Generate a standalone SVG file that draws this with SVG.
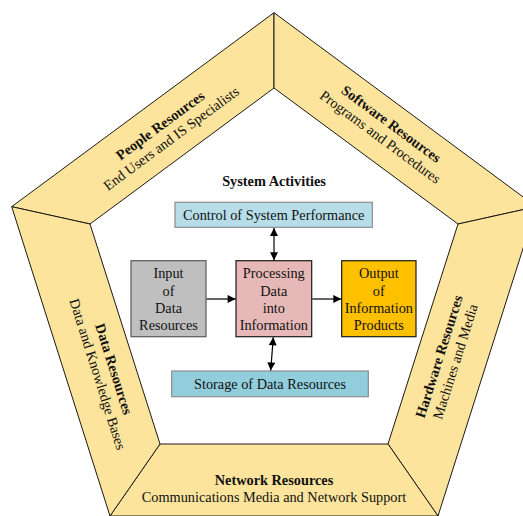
<svg xmlns="http://www.w3.org/2000/svg" width="523" height="516" viewBox="0 0 523 516">
  <style>
    .band { fill: #FDE49C; stroke: #1a1a1a; stroke-width: 1; stroke-linejoin: miter; }
    .lbl { font-family: "Liberation Serif", "Times New Roman", serif; font-size: 14.3px; fill: #111; text-anchor: middle; }
    .b { font-weight: bold; }
    .box { stroke-width: 1.2; }
    .conn { stroke: #000; stroke-width: 1.2; fill: none; }
  </style>
  <defs>
    <marker id="arrow" viewBox="0 0 10 10" refX="10" refY="5" markerWidth="9" markerHeight="8" markerUnits="userSpaceOnUse" orient="auto-start-reverse">
      <path d="M0,0 L10,5 L0,10 z" fill="#000"/>
    </marker>
  </defs>

  <rect width="523" height="516" fill="#fff"/>

  <!-- outer pentagon, split into five resource bands -->
  <g id="people">
    <polygon class="band" points="274,12.7 274,88 90,224 11.7,206.7"/>
    <g transform="translate(166,131.5) rotate(-36.5)">
      <text class="lbl b" x="-1" y="-3.5">People Resources</text>
      <text class="lbl" x="0" y="13.5">End Users and IS Specialists</text>
    </g>
  </g>
  <g id="software">
    <polygon class="band" points="274,12.7 536.3,206.7 458,224 274,88"/>
    <g transform="translate(385.5,130) rotate(36.5)">
      <text class="lbl b" x="1" y="-3.5">Software Resources</text>
      <text class="lbl" x="0" y="13.5">Programs and Procedures</text>
    </g>
  </g>
  <g id="hardware">
    <polygon class="band" points="536.3,206.7 438,516 388,444 458,224"/>
    <g transform="translate(447,359) rotate(-72.4)">
      <text class="lbl b" x="0" y="-3.5">Hardware Resources</text>
      <text class="lbl" x="0" y="13.5">Machines and Media</text>
    </g>
  </g>
  <g id="network">
    <polygon class="band" points="438,516 110,516 160,444 388,444"/>
    <text class="lbl b" x="274" y="484.5">Network Resources</text>
    <text class="lbl" x="274" y="501.5">Communications Media and Network Support</text>
  </g>
  <g id="data">
    <polygon class="band" points="110,516 11.7,206.7 90,224 160,444"/>
    <g transform="translate(106,371.5) rotate(72.4)">
      <text class="lbl b" x="0" y="-3.5">Data Resources</text>
      <text class="lbl" x="0" y="13.5">Data and Knowledge Bases</text>
    </g>
  </g>

  <!-- system activities -->
  <text id="title" class="lbl b" x="274" y="186">System Activities</text>

  <g id="control">
    <rect class="box" x="175" y="202.3" width="197.3" height="25" fill="#B7DEE8" stroke="#8c8c8c"/>
    <text class="lbl" x="273.7" y="219.5">Control of System Performance</text>
  </g>
  <g id="input">
    <rect class="box" x="131" y="260.7" width="75" height="76" fill="#BFBFBF" stroke="#595959"/>
    <text class="lbl" x="168.5" y="278.3">Input</text>
    <text class="lbl" x="168.5" y="295.5">of</text>
    <text class="lbl" x="168.5" y="312.7">Data</text>
    <text class="lbl" x="168.5" y="329.9">Resources</text>
  </g>
  <g id="processing">
    <rect class="box" x="236" y="260.7" width="75.7" height="76" fill="#E6B9B8" stroke="#1a1a1a"/>
    <text class="lbl" x="273.8" y="278.3">Processing</text>
    <text class="lbl" x="273.8" y="295.5">Data</text>
    <text class="lbl" x="273.8" y="312.7">into</text>
    <text class="lbl" x="273.8" y="329.9">Information</text>
  </g>
  <g id="output">
    <rect class="box" x="341.7" y="260.7" width="74.3" height="76" fill="#FFC000" stroke="#1a1a1a"/>
    <text class="lbl" x="378.8" y="278.3">Output</text>
    <text class="lbl" x="378.8" y="295.5">of</text>
    <text class="lbl" x="378.8" y="312.7">Information</text>
    <text class="lbl" x="378.8" y="329.9">Products</text>
  </g>
  <g id="storage">
    <rect class="box" x="171.7" y="371" width="196.6" height="25.7" fill="#92CDDC" stroke="#8c8c8c"/>
    <text class="lbl" x="270" y="388.5">Storage of Data Resources</text>
  </g>

  <g id="connectors">
    <line class="conn" x1="206.6" y1="299" x2="235.6" y2="299" marker-end="url(#arrow)"/>
    <line class="conn" x1="312.3" y1="299" x2="341.3" y2="299" marker-end="url(#arrow)"/>
    <line class="conn" x1="274" y1="228" x2="274" y2="260.2" marker-start="url(#arrow)" marker-end="url(#arrow)"/>
    <line class="conn" x1="273.3" y1="337.3" x2="270.7" y2="370.5" marker-start="url(#arrow)" marker-end="url(#arrow)"/>
  </g>
</svg>
